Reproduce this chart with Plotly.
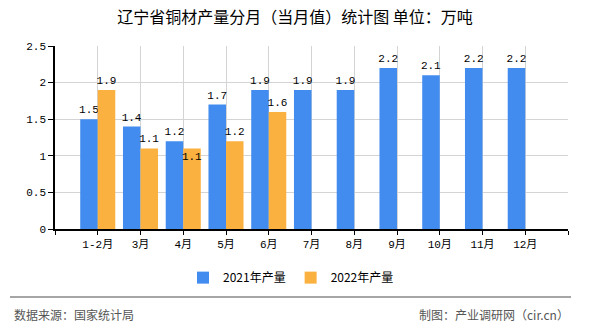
import plotly.graph_objects as go

categories = ["1-2月", "3月", "4月", "5月", "6月", "7月", "8月", "9月", "10月", "11月", "12月"]
values_2021 = [1.5, 1.4, 1.2, 1.7, 1.9, 1.9, 1.9, 2.2, 2.1, 2.2, 2.2]
values_2022 = [1.9, 1.1, 1.1, 1.2, 1.6]
series_names = ["2021年产量", "2022年产量"]
y_ticks = [0, 0.5, 1, 1.5, 2, 2.5]

W, H = 590, 330
L, R, T, B = 55, 22, 46, 100.7
PW, PH = W - L - R, H - T - B

def px_x(px):
    return (px - L) / PW

def px_y(py):
    return (H - B - py) / PH

BLUE = "#428cef"
ORANGE = "#fbb13f"
MONO = "Liberation Mono, DejaVu Sans Mono, Noto Sans CJK SC, monospace"
CJK = "Noto Sans CJK SC, sans-serif"

xs = list(range(len(categories)))

# label of 4月 2022 overlaps neighbour -> placed inside (as in reference)
pos_2022 = ["outside"] * len(values_2022)
pos_2022[2] = "inside"

fig = go.Figure()
fig.add_trace(go.Bar(
    x=xs, y=values_2021, name=series_names[0], marker=dict(color=BLUE, line=dict(width=0)),
    text=[f"{v:.1f}" for v in values_2021], textposition="outside", textangle=0,
    textfont=dict(family=MONO, size=11, color="#000"), constraintext="none",
    cliponaxis=False, hoverinfo="skip",
))
fig.add_trace(go.Bar(
    x=xs[:len(values_2022)], y=values_2022, name=series_names[1], marker=dict(color=ORANGE, line=dict(width=0)),
    text=[f"{v:.1f}" for v in values_2022], textposition=pos_2022, insidetextanchor="end", textangle=0,
    textfont=dict(family=MONO, size=11, color="#000"),
    insidetextfont=dict(family=MONO, size=11, color="#000"),
    outsidetextfont=dict(family=MONO, size=11, color="#000"), constraintext="none",
    cliponaxis=False, hoverinfo="skip",
))

tickvals = [-1] + xs + [len(categories)]
ticktext = [""] + categories + [""]

fig.update_layout(
    width=W, height=H,
    margin=dict(l=L, r=R, t=T, b=B, pad=0),
    paper_bgcolor="white", plot_bgcolor="white",
    barmode="group", bargap=0.18, bargroupgap=0,
    title=dict(text="辽宁省铜材产量分月（当月值）统计图 单位：万吨", x=0.5, xref="container", xanchor="center",
               y=1 - 17 / H, yref="container", yanchor="middle",
               font=dict(family=CJK, size=16, color="#000")),
    xaxis=dict(range=[-1, len(categories)], tickvals=tickvals, ticktext=ticktext,
               showgrid=True, gridcolor="#d4d4d4", gridwidth=1, zeroline=False,
               showline=True, linecolor="#000", linewidth=1.5,
               ticks="outside", ticklen=4, tickcolor="#000",
               tickfont=dict(family=MONO, size=11, color="#000")),
    yaxis=dict(range=[0, 2.5], tickvals=y_ticks, showgrid=True, gridcolor="#d4d4d4", gridwidth=1,
               zeroline=False, showline=True, linecolor="#000", linewidth=1.5,
               ticks="outside", ticklen=5, tickcolor="#000",
               tickfont=dict(family=MONO, size=11, color="#000")),
    legend=dict(orientation="h", x=px_x(291), xref="paper", xanchor="center", y=px_y(278), yanchor="middle",
                font=dict(family=CJK, size=12, color="#000"),
                itemwidth=30, tracegroupgap=0, bgcolor="rgba(0,0,0,0)"),
    showlegend=True,
)

fig.add_shape(type="line", xref="paper", yref="paper", x0=px_x(10), x1=px_x(571), y0=px_y(297.5), y1=px_y(297.5),
              line=dict(color="#888", width=1.5))
fig.add_annotation(text="数据来源：国家统计局", xref="paper", yref="paper", x=px_x(12), y=px_y(315),
                   xanchor="left", yanchor="middle", showarrow=False,
                   font=dict(family=CJK, size=12, color="#555"))
fig.add_annotation(text="制图：产业调研网（cir.cn）", xref="paper", yref="paper", x=px_x(571), y=px_y(315),
                   xanchor="right", yanchor="middle", showarrow=False,
                   font=dict(family=CJK, size=12, color="#555"))

fig.write_html("out.html")
